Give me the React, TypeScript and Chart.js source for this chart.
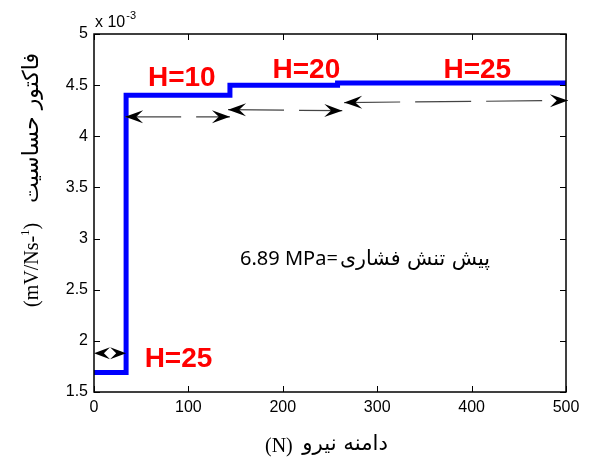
import { useEffect, useRef } from 'react';
import { Chart, registerables } from 'chart.js';

Chart.register(...registerables);

// ---- data ----
const stepEdges = [0, 34, 144, 258, 500]; // force (N) where the level changes
const stepLevels = [1.69, 4.40, 4.50, 4.52]; // sensitivity factor (x10^-3 mV/Ns-1)
const xTicks = [0, 100, 200, 300, 400, 500];
const yTicks = [1.5, 2, 2.5, 3, 3.5, 4, 4.5, 5];
const yTickLabels = ['1.5', '2', '2.5', '3', '3.5', '4', '4.5', '5'];

// annotation arrows (data units)
const arrowX1 = [33, 142, 265];
const arrowX2 = [144, 263, 502];
const arrowY1 = [4.19, 4.26, 4.33];
const arrowY2 = [4.19, 4.25, 4.35];
const smallArrow = { x1: 0, x2: 34, y: 1.88 };

// H labels (data units)
const hLabels = ['H=10', 'H=20', 'H=25', 'H=25'];
const hLabelX = [93, 225, 406, 89.5];
const hLabelY = [4.57, 4.65, 4.65, 1.82];

const centerLatin = '6.89 MPa=';
const centerPersian = 'پیش تنش فشاری';
const xTitleLatin = '(N)';
const xTitlePersian = 'دامنه نیرو';
const yTitlePersian = 'فاکتور حساسیت';

const SANS = "'Liberation Sans', Arial, sans-serif";
const SERIF = "'Liberation Serif', 'Times New Roman', serif";
const FA = "'DejaVu Sans', sans-serif";

function buildPoints() {
  const pts: { x: number; y: number }[] = [];
  for (let i = 0; i < stepLevels.length; i++) {
    pts.push({ x: stepEdges[i], y: stepLevels[i] });
    pts.push({ x: stepEdges[i + 1], y: stepLevels[i] });
  }
  return pts;
}

function arrowHead(ctx: CanvasRenderingContext2D, tx: number, ty: number, ang: number, L = 18, W = 6.5) {
  const dx = Math.cos(ang), dy = Math.sin(ang);
  const px = -dy, py = dx;
  ctx.beginPath();
  ctx.moveTo(tx, ty);
  ctx.lineTo(tx - L * dx + W * px, ty - L * dy + W * py);
  ctx.lineTo(tx - 0.62 * L * dx, ty - 0.62 * L * dy);
  ctx.lineTo(tx - L * dx - W * px, ty - L * dy - W * py);
  ctx.closePath();
  ctx.fillStyle = '#000';
  ctx.fill();
}

function fitFont(ctx: CanvasRenderingContext2D, text: string, family: string, width: number, base: number) {
  ctx.font = `${base}px ${family}`;
  const w = ctx.measureText(text).width;
  let size = base * width / w;
  size = Math.max(base * 0.7, Math.min(base * 1.3, size));
  return `${size.toFixed(1)}px ${family}`;
}

const overlay = {
  id: 'overlay',
  afterDatasetsDraw(chart: any) {
    const ctx: CanvasRenderingContext2D = chart.ctx;
    const { left, right, top, bottom } = chart.chartArea;
    const xs = chart.scales.x, ys = chart.scales.y;
    ctx.save();

    // frame
    ctx.strokeStyle = '#000';
    ctx.lineWidth = 1.5;
    ctx.strokeRect(left, top, right - left, bottom - top);
    // inward ticks
    ctx.lineWidth = 1;
    ctx.beginPath();
    xTicks.forEach(v => {
      const px = Math.round(xs.getPixelForValue(v)) + 0.5;
      ctx.moveTo(px, bottom); ctx.lineTo(px, bottom - 6);
      ctx.moveTo(px, top); ctx.lineTo(px, top + 6);
    });
    yTicks.forEach(v => {
      const py = Math.round(ys.getPixelForValue(v)) + 0.5;
      ctx.moveTo(left, py); ctx.lineTo(left + 6, py);
      ctx.moveTo(right, py); ctx.lineTo(right - 6, py);
    });
    ctx.stroke();

    // dashed double arrows
    for (let i = 0; i < arrowX1.length; i++) {
      const x1 = xs.getPixelForValue(arrowX1[i]), y1 = ys.getPixelForValue(arrowY1[i]);
      const x2 = xs.getPixelForValue(arrowX2[i]), y2 = ys.getPixelForValue(arrowY2[i]);
      ctx.save();
      ctx.strokeStyle = '#444';
      ctx.lineWidth = 1.2;
      ctx.setLineDash([56, 15]);
      ctx.beginPath();
      ctx.moveTo(x1, y1); ctx.lineTo(x2, y2);
      ctx.stroke();
      ctx.restore();
      const ang = Math.atan2(y2 - y1, x2 - x1);
      arrowHead(ctx, x1, y1, ang + Math.PI);
      arrowHead(ctx, x2, y2, ang);
    }
    {
      const x1 = xs.getPixelForValue(smallArrow.x1), x2 = xs.getPixelForValue(smallArrow.x2);
      const y = ys.getPixelForValue(smallArrow.y);
      arrowHead(ctx, x1, y, Math.PI, 16, 6);
      arrowHead(ctx, x2, y, 0, 16, 6);
    }

    // H labels
    ctx.fillStyle = '#ff0000';
    ctx.font = `bold 28px ${SANS}`;
    ctx.textAlign = 'center';
    ctx.textBaseline = 'middle';
    hLabels.forEach((t, i) => {
      ctx.fillText(t, xs.getPixelForValue(hLabelX[i]), ys.getPixelForValue(hLabelY[i]));
    });

    // centre text
    ctx.fillStyle = '#000';
    ctx.textBaseline = 'alphabetic';
    const cl = xs.getPixelForValue(154.7), cr = xs.getPixelForValue(419.5), cb = ys.getPixelForValue(2.74);
    ctx.font = `20px 'Noto Sans', ${SANS}`;
    ctx.textAlign = 'left';
    ctx.fillText(centerLatin, cl, cb);
    const lw = ctx.measureText(centerLatin).width;
    ctx.font = fitFont(ctx, centerPersian, FA, cr - cl - lw - 2, 20);
    ctx.textAlign = 'right';
    ctx.direction = 'rtl';
    ctx.fillText(centerPersian, cr, cb);
    ctx.direction = 'ltr';

    // exponent
    ctx.textAlign = 'left';
    ctx.font = `16px ${SANS}`;
    ctx.fillText('x 10', left + 1, top - 7);
    const ew = ctx.measureText('x 10').width;
    ctx.font = `11px ${SANS}`;
    ctx.fillText('-3', left + 1 + ew + 1, top - 15);

    // x title
    ctx.font = `20px ${SERIF}`;
    ctx.textAlign = 'left';
    ctx.fillText(xTitleLatin, 265, 452);
    ctx.font = fitFont(ctx, xTitlePersian, FA, 86, 18);
    ctx.textAlign = 'right';
    ctx.direction = 'rtl';
    ctx.fillText(xTitlePersian, 388, 450);
    ctx.direction = 'ltr';

    // y title (rotated)
    ctx.save();
    ctx.translate(38, 0);
    ctx.rotate(-Math.PI / 2);
    ctx.textAlign = 'left';
    ctx.font = `20px ${SERIF}`;
    let xp = -307;
    ctx.fillText('(mV/Ns-', xp, 0);
    xp += ctx.measureText('(mV/Ns-').width;
    ctx.font = `13px ${SERIF}`;
    ctx.fillText('1', xp, -9);
    xp += ctx.measureText('1').width;
    ctx.font = `20px ${SERIF}`;
    ctx.fillText(')', xp, 0);
    ctx.font = fitFont(ctx, yTitlePersian, FA, 150, 18);
    ctx.textAlign = 'right';
    ctx.direction = 'rtl';
    ctx.fillText(yTitlePersian, -53, 0);
    ctx.restore();

    ctx.restore();
  },
};

export default function App() {
  const ref = useRef<HTMLCanvasElement | null>(null);
  useEffect(() => {
    if (!ref.current) return;
    const chart = new Chart(ref.current, {
      type: 'line',
      data: {
        datasets: [
          {
            data: buildPoints(),
            borderColor: '#0000ff',
            borderWidth: 5,
            pointRadius: 0,
            fill: false,
            tension: 0,
          },
        ],
      },
      options: {
        animation: false,
        responsive: false,
        maintainAspectRatio: false,
        layout: { padding: { left: 0, top: 34, right: 24, bottom: 0 } },
        plugins: { legend: { display: false }, tooltip: { enabled: false } },
        scales: {
          x: {
            type: 'linear',
            min: 0,
            max: 500,
            afterBuildTicks: (s: any) => { s.ticks = xTicks.map(v => ({ value: v })); },
            afterFit: (s: any) => { s.height = 68; },
            grid: { display: false, drawTicks: false },
            border: { display: false },
            ticks: { color: '#000', font: { family: SANS, size: 16 }, padding: 6, maxRotation: 0 },
          },
          y: {
            type: 'linear',
            min: 1.5,
            max: 5,
            afterBuildTicks: (s: any) => { s.ticks = yTicks.map(v => ({ value: v })); },
            afterFit: (s: any) => { s.width = 94; },
            grid: { display: false, drawTicks: false },
            border: { display: false },
            ticks: {
              color: '#000',
              font: { family: SANS, size: 16 },
              padding: 6,
              callback: (v: any) => {
                const i = yTicks.indexOf(Number(v));
                return i >= 0 ? yTickLabels[i] : '';
              },
            },
          },
        },
      },
      plugins: [overlay],
    });
    return () => chart.destroy();
  }, []);
  return (
    <div style={{ position: 'fixed', left: 0, top: 0, width: 590, height: 460, background: '#fff' }}>
      <canvas ref={ref} width={590} height={460} style={{ width: 590, height: 460 }} />
    </div>
  );
}
